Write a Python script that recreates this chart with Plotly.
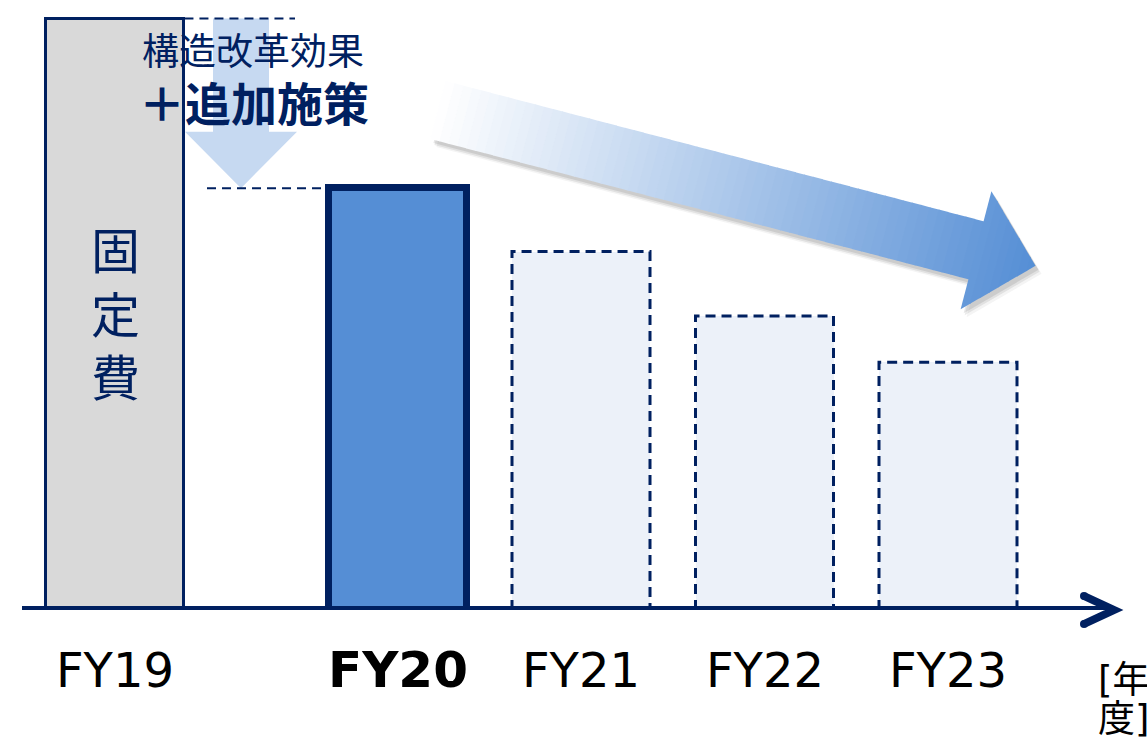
import plotly.graph_objects as go
import math

# ---------------- data ----------------
categories = ["FY19", "FY20", "FY21", "FY22", "FY23"]
fixed_cost = [100.0, 71.3, 60.6, 49.7, 41.9]   # index, FY19 = 100
bar_text = "固<br>定<br>費"
note_line1 = "構造改革効果"
note_line2 = "＋追加施策"
unit_line1 = "[年"
unit_line2 = "度]"

# ---------------- layout constants ----------------
W, H = 1147, 739
NAVY = "#002060"
X_POS = [-0.537, 1, 2, 3, 4]
BAR_W = 0.752
X0_PX, X_STEP = 214.0, 183.5          # pixel of x=0, pixels per unit
AXIS_PX = 610.0
Y_SCALE = 5.915                       # pixels per unit
X_RANGE = [-X0_PX / X_STEP, (W - X0_PX) / X_STEP]
Y_RANGE = [0, AXIS_PX / Y_SCALE]
Y_DOMAIN = [1 - AXIS_PX / H, 1]


def pxx(x):
    return x / W


def pxy(y):
    return 1 - y / H


def xd(px):
    return (px - X0_PX) / X_STEP


fills = ["#D9D9D9", "#558ED5", "#ECF1F9", "#ECF1F9", "#ECF1F9"]
line_w = [3, 7, 0, 0, 0]

fig = go.Figure()
fig.add_trace(go.Bar(
    x=X_POS, y=fixed_cost, width=BAR_W,
    marker=dict(color=fills, line=dict(color=NAVY, width=line_w)),
    hoverinfo="skip", showlegend=False,
))

shapes = []

# dashed outlines for plan bars
for i in range(2, len(categories)):
    x0 = X_POS[i] - BAR_W / 2
    x1 = X_POS[i] + BAR_W / 2
    v = fixed_cost[i]
    shapes.append(dict(type="path", xref="x", yref="y",
                       path=f"M {x0},0 L {x0},{v} L {x1},{v} L {x1},0",
                       line=dict(color=NAVY, width=3, dash="10px,6px"),
                       layer="above"))

# down arrow between FY19 and FY20 levels
top_v = fixed_cost[0]
tip_v = fixed_cost[1]
hb_v = tip_v + (top_v - tip_v) / 3
sx0, sx1 = xd(213), xd(269)
hx0, hx1 = xd(185), xd(297)
cx = xd(241)
shapes.append(dict(type="path", xref="x", yref="y",
                   path=(f"M {sx0},{top_v} L {sx1},{top_v} L {sx1},{hb_v} L {hx1},{hb_v} "
                         f"L {cx},{tip_v} L {hx0},{hb_v} L {sx0},{hb_v} Z"),
                   fillcolor="#C6D9F1", line=dict(width=0), layer="below"))

# dashed reference lines
shapes.append(dict(type="line", xref="x", yref="y",
                   x0=X_POS[0] + BAR_W / 2, x1=xd(295), y0=top_v, y1=top_v,
                   line=dict(color=NAVY, width=2, dash="9px,6px")))
shapes.append(dict(type="line", xref="x", yref="y",
                   x0=xd(207), x1=X_POS[1] - BAR_W / 2, y0=tip_v, y1=tip_v,
                   line=dict(color=NAVY, width=2, dash="9px,6px")))

# big gradient arrow (decorative)
ang = math.atan2(140, 537)
dx, dy = math.cos(ang), math.sin(ang)
nx, ny = -dy, dx
C0 = (438.0, 110.0)
SHAFT_HW, HEAD_HW, HEAD_START, TIP = 30.0, 61.0, 556.0, 617.5


def P(d, s, off=(0, 0)):
    x = C0[0] + d * dx + s * nx + off[0]
    y = C0[1] + d * dy + s * ny + off[1]
    return f"{pxx(x):.5f},{pxy(y):.5f}"


def outline(off):
    pts = [P(0, -SHAFT_HW, off), P(HEAD_START, -SHAFT_HW, off), P(HEAD_START, -HEAD_HW, off),
           P(TIP, 0, off), P(HEAD_START, HEAD_HW, off), P(HEAD_START, SHAFT_HW, off),
           P(0, SHAFT_HW, off)]
    return "M " + " L ".join(pts) + " Z"


for off, a in [((6, 8), 0.06), ((4, 6), 0.10), ((3, 4), 0.12)]:
    shapes.append(dict(type="path", xref="paper", yref="paper", path=outline(off),
                       fillcolor=f"rgba(60,60,60,{a})", line=dict(width=0), layer="below"))

c0 = (255, 255, 255)
c1 = (85, 142, 213)
bps = [HEAD_START * i / 60 for i in range(61)]
hbps = [HEAD_START + (TIP - HEAD_START) * i / 8 for i in range(1, 9)]


def col(t):
    r = round(c0[0] + (c1[0] - c0[0]) * t)
    g = round(c0[1] + (c1[1] - c0[1]) * t)
    b = round(c0[2] + (c1[2] - c0[2]) * t)
    return f"rgb({r},{g},{b})"


for i in range(len(bps) - 1):
    a, b = bps[i], bps[i + 1] + 0.8
    t = (bps[i] + bps[i + 1]) / 2 / TIP
    path = "M " + " L ".join([P(a, -SHAFT_HW), P(b, -SHAFT_HW), P(b, SHAFT_HW), P(a, SHAFT_HW)]) + " Z"
    shapes.append(dict(type="path", xref="paper", yref="paper", path=path,
                       fillcolor=col(t), line=dict(width=0), layer="below"))
prev = HEAD_START
for hb in hbps:
    a = prev
    b = min(hb + 0.8, TIP)
    ha = HEAD_HW * (TIP - a) / (TIP - HEAD_START)
    hbw = HEAD_HW * (TIP - b) / (TIP - HEAD_START)
    t = (prev + hb) / 2 / TIP
    path = "M " + " L ".join([P(a, -ha), P(b, -hbw), P(b, hbw), P(a, ha)]) + " Z"
    shapes.append(dict(type="path", xref="paper", yref="paper", path=path,
                       fillcolor=col(t), line=dict(width=0), layer="below"))
    prev = hb

# axis line with arrow head
shapes.append(dict(type="line", xref="paper", yref="y", x0=pxx(22), x1=pxx(1110), y0=0, y1=0,
                   line=dict(color=NAVY, width=8), layer="above"))
shapes.append(dict(type="path", xref="paper", yref="paper",
                   path=f"M {pxx(1084)},{pxy(596)} L {pxx(1114)},{pxy(610)} L {pxx(1084)},{pxy(624)}",
                   line=dict(color=NAVY, width=8), layer="above"))
for cy in (596, 624):
    shapes.append(dict(type="circle", xref="paper", yref="paper",
                       x0=pxx(1080), x1=pxx(1088), y0=pxy(cy - 4), y1=pxy(cy + 4),
                       fillcolor=NAVY, line=dict(width=0), layer="above"))

annotations = []
LAT = "DejaVu Sans, Noto Sans CJK JP"
CJK = "Noto Sans CJK JP"
for i, c in enumerate(categories):
    txt = f"<b>{c}</b>" if i == 1 else c
    annotations.append(dict(x=X_POS[i], y=pxy(670), xref="x", yref="paper", text=txt,
                            showarrow=False, xanchor="center", yanchor="middle",
                            font=dict(family=LAT, size=50 if i == 1 else 48, color="#000000")))
annotations.append(dict(x=X_POS[0], y=pxy(311), xref="x", yref="paper", text=bar_text,
                        showarrow=False, xanchor="center", yanchor="middle",
                        font=dict(family=CJK, size=49, color=NAVY)))
annotations.append(dict(x=pxx(140), y=pxy(49), xref="paper", yref="paper", text=note_line1,
                        showarrow=False, xanchor="left", yanchor="middle",
                        font=dict(family=CJK, size=37, color=NAVY)))
annotations.append(dict(x=pxx(137), y=pxy(101), xref="paper", yref="paper", text=f"<b>{note_line2}</b>",
                        showarrow=False, xanchor="left", yanchor="middle",
                        font=dict(family=CJK, size=46, color=NAVY)))
annotations.append(dict(x=pxx(1096), y=pxy(680), xref="paper", yref="paper", text=unit_line1,
                        showarrow=False, xanchor="left", yanchor="middle",
                        font=dict(family=LAT, size=37, color="#000000")))
annotations.append(dict(x=pxx(1096), y=pxy(719), xref="paper", yref="paper", text=unit_line2,
                        showarrow=False, xanchor="left", yanchor="middle",
                        font=dict(family=LAT, size=37, color="#000000")))

fig.update_layout(
    width=W, height=H,
    margin=dict(l=0, r=0, t=0, b=0, pad=0),
    paper_bgcolor="white", plot_bgcolor="rgba(0,0,0,0)",
    xaxis=dict(range=X_RANGE, domain=[0, 1], visible=False, fixedrange=True),
    yaxis=dict(range=Y_RANGE, domain=Y_DOMAIN, visible=False, fixedrange=True),
    shapes=shapes, annotations=annotations,
    bargap=0, showlegend=False,
)

fig.write_html("out.html", config={"displayModeBar": False},
               post_script="document.body.style.margin='0px';document.body.style.overflow='hidden';")
